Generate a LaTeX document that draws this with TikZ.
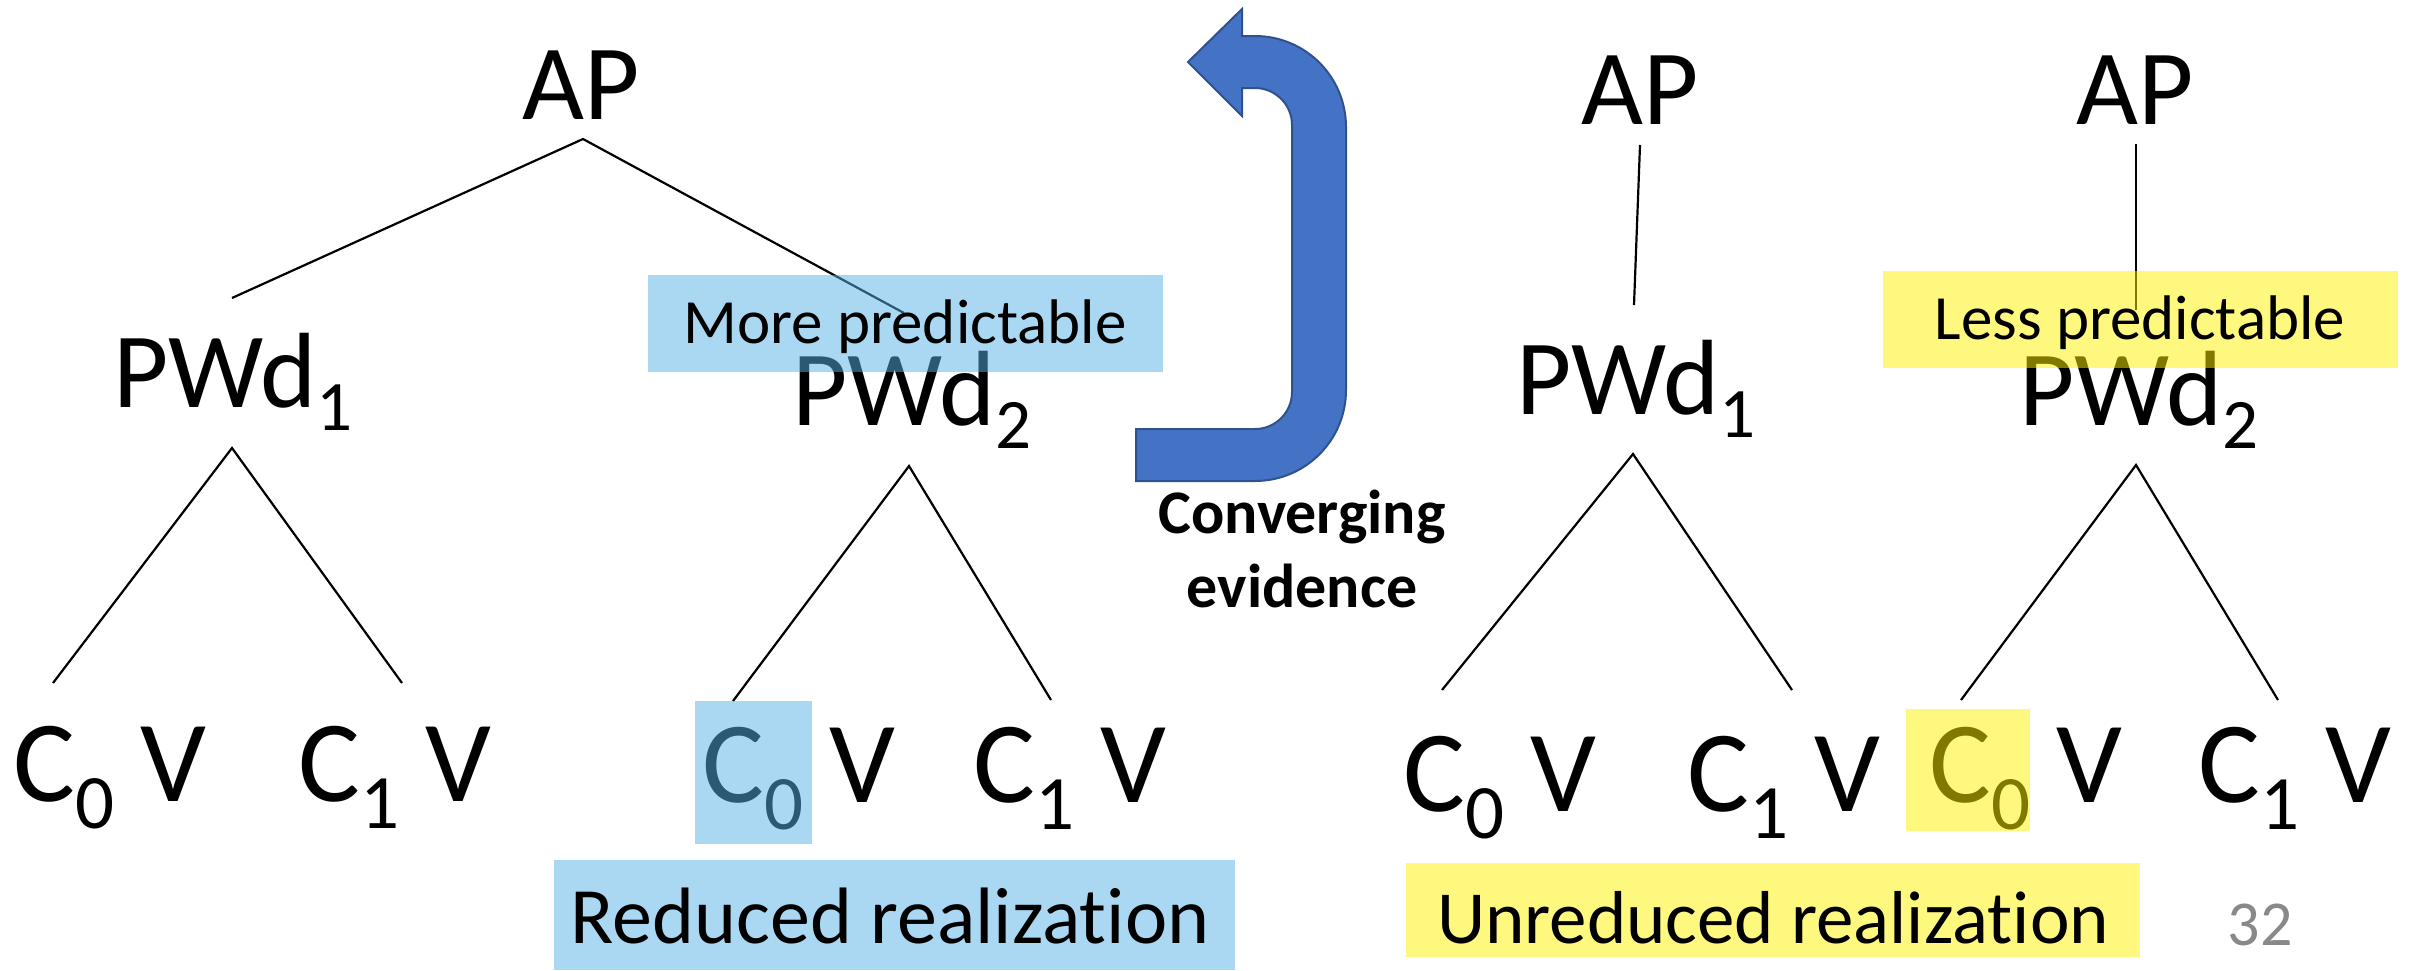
\documentclass[tikz,border=0pt]{standalone}
\usepackage{fontspec}
\setmainfont[Ligatures=NoCommon]{Carlito}
% lowered indices for the category labels and for the segment rows
\newcommand\lo[1]{\raisebox{-23pt}{\fontsize{71}{71}\selectfont #1}}
\newcommand\lob[1]{\raisebox{-27pt}{\fontsize{77}{77}\selectfont #1}}
\definecolor{hlblue}{RGB}{86,178,230}
\definecolor{arrowfill}{RGB}{68,114,196}
\definecolor{arrowline}{RGB}{47,82,143}
\definecolor{pagegray}{RGB}{137,137,137}
\begin{document}
\begin{tikzpicture}[x=1pt,y=-1pt,
  lbl/.style={inner sep=0pt, anchor=base},
  cat/.style={lbl, font=\fontsize{107}{107}\selectfont},
  seg/.style={lbl, font=\fontsize{116}{116}\selectfont},
  note/.style={lbl, font=\fontsize{63}{63}\selectfont},
  branch/.style={line width=2.2pt},
  hlb/.style={fill=hlblue, fill opacity=0.5},
  hly/.style={fill=yellow, fill opacity=0.5},
  uturn/.style={fill=arrowfill, draw=arrowline, line width=2pt, line join=miter}]
\useasboundingbox (0,0) rectangle (2412,970);

% ---------- tree with two prosodic words ----------
\node[cat] (ap1) at (581,119) {AP};
\node[cat] (pw1) at (233,407) {PWd\lo{1}};
\node[cat] (pw2) at (912,425) {PWd\lo{2}};
\node[seg] (s11) at (110,801) {C\lob{0} V};
\node[seg] (s12) at (395,801) {C\lob{1} V};
\node[seg] (s21) at (799,802) {C\lob{0} V};
\node[seg] (s22) at (1070,802) {C\lob{1} V};

\coordinate (ap1b) at (583,139);
\coordinate (pw1t) at (232,298);
\coordinate (pw2t) at (904,313);
\coordinate (pw1b) at (232,448);
\coordinate (s11t) at (53,683);
\coordinate (s12t) at (402,683);
\coordinate (pw2b) at (909,466);
\coordinate (s21t) at (733,701);
\coordinate (s22t) at (1051,700);

\draw[branch] (pw1t) -- (ap1b) -- (pw2t);
\draw[branch] (s11t) -- (pw1b) -- (s12t);
\draw[branch] (s21t) -- (pw2b) -- (s22t);

% ---------- the two single-word trees ----------
\node[cat] (ap2) at (1640,124) {AP};
\node[cat] (pw3) at (1636,414) {PWd\lo{1}};
\node[seg] (s31) at (1500,811) {C\lob{0} V};
\node[seg] (s32) at (1784,811) {C\lob{1} V};

\node[cat] (ap3) at (2135,124) {AP};
\node[cat] (pw4) at (2139,425) {PWd\lo{2}};
\node[seg] (s41) at (2026,802) {C\lob{0} V};
\node[seg] (s42) at (2295,802) {C\lob{1} V};

\coordinate (ap2b) at (1640,145);
\coordinate (pw3t) at (1634,305);
\coordinate (pw3b) at (1633,454);
\coordinate (s31t) at (1442,690);
\coordinate (s32t) at (1792,690);
\coordinate (ap3b) at (2136,144);
\coordinate (pw4t) at (2136,310);
\coordinate (pw4b) at (2136,465);
\coordinate (s41t) at (1961,700);
\coordinate (s42t) at (2278,700);

\draw[branch] (ap2b) -- (pw3t);
\draw[branch] (s31t) -- (pw3b) -- (s32t);
\draw[branch] (ap3b) -- (pw4t);
\draw[branch] (s41t) -- (pw4b) -- (s42t);

% ---------- highlights ----------
\path[hlb] (648,275) rectangle (1163,372);
\path[hlb] (695,701) rectangle (812,844);
\path[hlb] (554,860) rectangle (1235,970);
\path[hly] (1883,271) rectangle (2398,368);
\path[hly] (1906,709) rectangle (2030,831);
\path[hly] (1406,863) rectangle (2140,957);

\node[note] (more) at (905,343) {More predictable};
\node[note] (less) at (2140,339) {Less predictable};
\node[lbl, font=\fontsize{80}{80}\selectfont] (red) at (890,943) {Reduced realization};
\node[lbl, font=\fontsize{75}{75}\selectfont] (unred) at (1773,943) {Unreduced realization};

% ---------- U-turn arrow ----------
\draw[uturn] (1188,62) -- (1242,9) -- (1242,36) -- (1255,36)
  .. controls (1305.3,36) and (1346,76.7) .. (1346,127) -- (1346,390)
  .. controls (1346,440.3) and (1305.3,481) .. (1255,481) -- (1136,481)
  -- (1136,429) -- (1255,429)
  .. controls (1275.4,429) and (1292,412.4) .. (1292,392) -- (1292,125)
  .. controls (1292,104.6) and (1275.4,88) .. (1255,88) -- (1242,88)
  -- (1242,116) -- cycle;

\node[lbl, font=\fontsize{62}{62}\selectfont\bfseries] (conv1) at (1302,533) {Converging};
\node[lbl, font=\fontsize{62}{62}\selectfont\bfseries] (conv2) at (1302,607) {evidence};

% slide number
\node[lbl, font=\fontsize{64}{64}\selectfont, text=pagegray] (num) at (2260,945) {32};
\end{tikzpicture}
\end{document}
